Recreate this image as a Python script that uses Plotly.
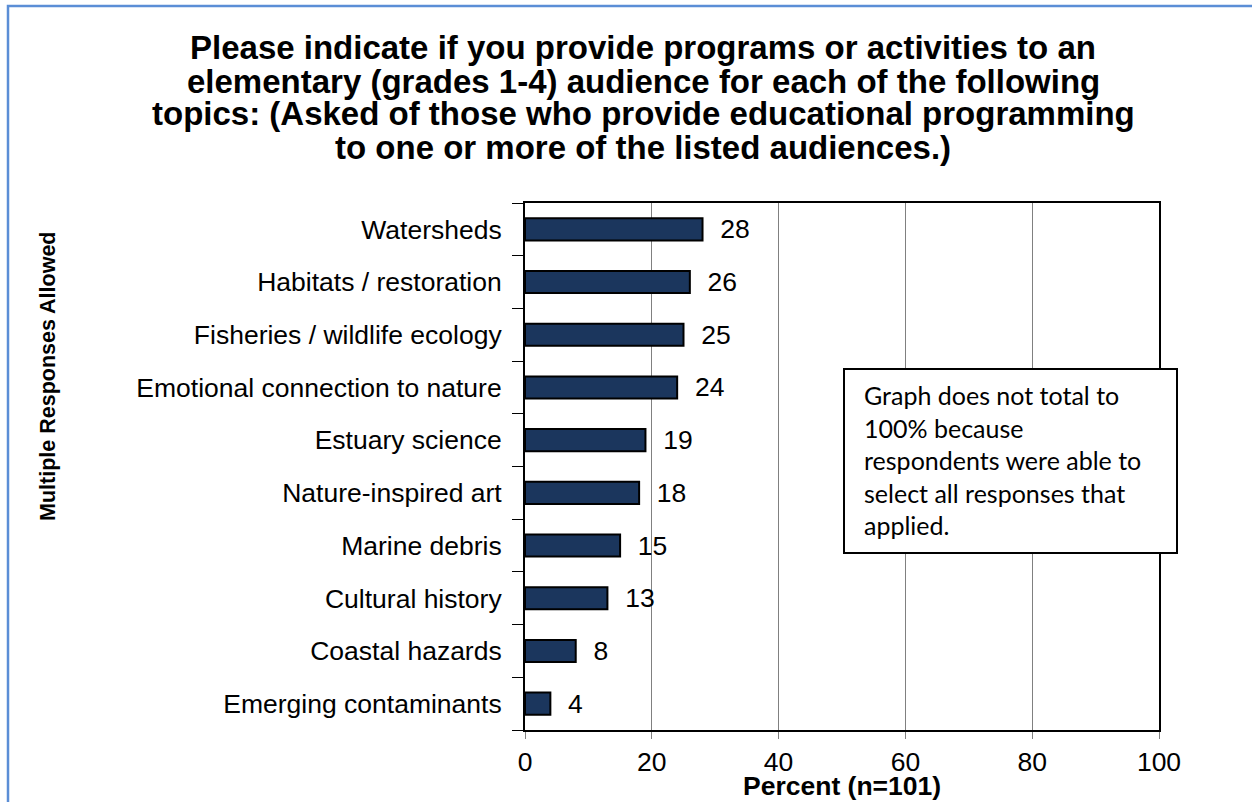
import plotly.graph_objects as go

categories = ["Watersheds", "Habitats / restoration", "Fisheries / wildlife ecology",
              "Emotional connection to nature", "Estuary science", "Nature-inspired art",
              "Marine debris", "Cultural history", "Coastal hazards", "Emerging contaminants"]
values = [28, 26, 25, 24, 19, 18, 15, 13, 8, 4]
x_ticks = [0, 20, 40, 60, 80, 100]

n = len(categories)
ypos = [n - 1 - i for i in range(n)]

W, H = 1252, 802
L, R, T, B = 525, 93, 203, 72
pw, ph = W - L - R, H - T - B

def px(x):
    return (x - L) / pw

def py(y):
    return (H - B - y) / ph

FONT = "Liberation Sans, Arial"
FS = 26.5

fig = go.Figure()
fig.add_trace(go.Bar(
    x=values, y=ypos, orientation="h", width=0.42,
    marker=dict(color="#1B365D", line=dict(color="#000000", width=2)),
    text=values, texttemplate="  %{x}", textposition="outside", cliponaxis=False,
    constraintext="none",
    textfont=dict(family=FONT, size=FS, color="#000000"),
    hoverinfo="skip",
))

fig.update_layout(
    width=W, height=H, margin=dict(l=L, r=R, t=T, b=B),
    paper_bgcolor="white", plot_bgcolor="white", showlegend=False,
    font=dict(family=FONT, size=FS, color="#000000"),
    xaxis=dict(range=[0, 100], tickvals=x_ticks, showgrid=True, gridcolor="#808080", gridwidth=1,
               showline=True, linecolor="#000000", linewidth=2, mirror=True,
               ticks="outside", ticklen=7, tickcolor="#808080", tickwidth=1,
               tickfont=dict(size=FS), zeroline=False),
    yaxis=dict(range=[-0.5, n - 0.5], tickvals=ypos, ticktext=categories, ticks="",
               showgrid=False, zeroline=False, showline=True, linecolor="#000000",
               linewidth=2, mirror=True, tickfont=dict(size=FS), ticklabelstandoff=16,
               minor=dict(tickvals=[i - 0.5 for i in range(n + 1)], ticks="outside",
                          ticklen=11, tickcolor="#000000", tickwidth=1, showgrid=False)),
)

# title, one annotation per line
title_lines = ["Please indicate if you provide programs or activities to an",
               "elementary (grades 1-4) audience for each of the following",
               "topics: (Asked of those who provide educational programming",
               "to one or more of the listed audiences.)"]
title_y = [47, 81, 114, 147]
for s, yy in zip(title_lines, title_y):
    fig.add_annotation(xref="paper", yref="paper", x=px(643), y=py(yy), xanchor="center", yanchor="middle",
                       text="<b>%s</b>" % s, showarrow=False,
                       font=dict(size=33, family=FONT))

# x-axis title
fig.add_annotation(xref="paper", yref="paper", x=px(842), y=py(786), xanchor="center", yanchor="middle",
                   text="<b>Percent (n=101)</b>", showarrow=False, font=dict(size=FS, family=FONT))

# rotated y-axis label
fig.add_annotation(xref="paper", yref="paper", x=px(48), y=py(376), xanchor="center", yanchor="middle",
                   text="<b>Multiple Responses Allowed</b>", textangle=-90, showarrow=False,
                   font=dict(size=21.5, family=FONT))

# note box
fig.add_shape(type="rect", xref="paper", yref="paper", x0=px(844), x1=px(1177), y0=py(553), y1=py(369),
              line=dict(color="#000000", width=2), fillcolor="white", layer="above")
note = ["Graph does not total to", "100% because", "respondents were able to",
        "select all responses that", "applied."]
fig.add_annotation(xref="paper", yref="paper", x=px(862), y=py(460), xanchor="left", yanchor="middle",
                   text="<br>".join(note), showarrow=False, align="left",
                   font=dict(size=25, family="Lato, Open Sans"))

# page border
fig.add_shape(type="rect", xref="paper", yref="paper", x0=px(8), x1=px(1270), y0=py(820), y1=py(6),
              line=dict(color="#5B8ED6", width=2.5), fillcolor="rgba(0,0,0,0)", layer="above")

fig.write_html("out.html", config={"displayModeBar": False},
               post_script="document.body.style.margin='0';")
